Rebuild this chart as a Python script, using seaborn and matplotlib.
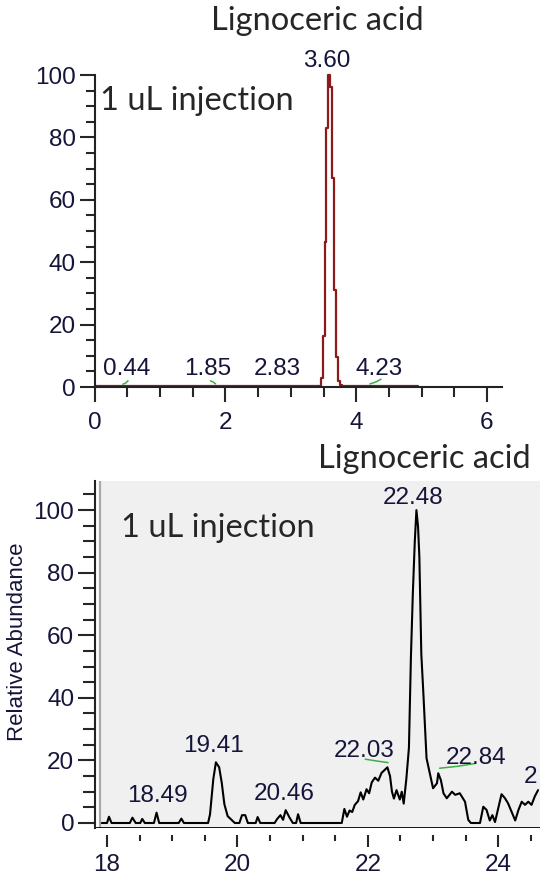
import numpy as np
import pandas as pd
import matplotlib
matplotlib.use('Agg')
import matplotlib.pyplot as plt
import seaborn as sns
from matplotlib.ticker import MultipleLocator
from matplotlib.patches import Rectangle

# top chromatogram (dark red trace)
top_time = [0.0, 0.44, 1.85, 2.83, 3.44, 3.47, 3.50, 3.53, 3.56, 3.59, 3.62,
            3.65, 3.68, 3.71, 3.74, 3.77, 3.80, 4.23, 4.94]
top_abund = [0.3, 0.3, 0.3, 0.3, 0.3, 3, 16.5, 46.5, 83, 100, 96,
             67, 31, 9.5, 2, 0.8, 0.4, 0.3, 0.3]
top_peak_labels = ['0.44', '1.85', '2.83', '3.60', '4.23']
top_label_x = [0.49, 1.73, 2.79, 3.55, 4.35]
top_label_y = [3.7, 3.7, 3.7, 102.7, 3.7]
# small green baseline marks under the minor peaks
top_marks = [([0.43, 0.47, 0.51], [0.9, 1.2, 2.0]),
             ([1.77, 1.81, 1.85], [2.0, 1.6, 1.0]),
             ([4.21, 4.30, 4.38], [1.0, 1.6, 2.5])]

# bottom chromatogram (black trace)
bot_time = [17.92, 18.00, 18.03, 18.07, 18.35, 18.39, 18.44, 18.51, 18.54, 18.58,
            18.72, 18.76, 18.80, 19.10, 19.14, 19.18, 19.55, 19.58, 19.63, 19.67,
            19.72, 19.76, 19.80, 19.85, 19.91, 19.96, 20.03, 20.07, 20.12, 20.16,
            20.28, 20.31, 20.35, 20.57, 20.61, 20.66, 20.70, 20.74, 20.80, 20.85,
            20.90, 20.93, 20.97, 21.60, 21.64, 21.68, 21.72, 21.76, 21.80, 21.85,
            21.89, 21.93, 21.98, 22.02, 22.06, 22.11, 22.16, 22.21, 22.26, 22.30,
            22.34, 22.37, 22.40, 22.44, 22.49, 22.52, 22.55, 22.59, 22.63, 22.66,
            22.69, 22.72, 22.745, 22.77, 22.79, 22.82, 22.85, 22.90, 22.95, 23.00,
            23.06, 23.08, 23.12, 23.16, 23.21, 23.29, 23.34, 23.41, 23.49, 23.54,
            23.58, 23.72, 23.77, 23.82, 23.87, 23.91, 23.95, 24.05, 24.10, 24.15,
            24.26, 24.31, 24.36, 24.41, 24.46, 24.51, 24.56, 24.61]
bot_abund = [0, 0, 2, 0, 0, 1.7, 0, 0, 1.3, 0,
             0, 3.3, 0, 0, 1.4, 0, 0, 2.8, 14, 19.4,
             17.8, 12.8, 6, 2.2, 1, 0, 0, 2.5, 2.5, 0,
             0, 1.9, 0, 0, 1.3, 2.5, 1.0, 4.1, 1.7, 0,
             0, 2.8, 0, 0, 4.5, 2.0, 4.0, 3.5, 5.8, 7.0,
             9.8, 7.5, 10.8, 9.5, 13.0, 14.5, 13.5, 16.0, 17.0, 17.8,
             15.0, 10.0, 7.8, 10.5, 7.5, 10.0, 6.2, 14.0, 24, 52.6,
             73.4, 90, 100, 94.7, 85, 54, 42, 20.7, 15.9, 11.1,
             12.7, 15.9, 13.7, 9.5, 7.9, 10, 9, 9.5, 6.8, 1.0,
             0, 0, 5.2, 4.2, 0.8, 2.5, 0.3, 9.2, 8.0, 6.3,
             0.8, 4.2, 6.8, 5.8, 6.8, 5.8, 8.5, 10.5]
bot_peak_labels = ['18.49', '19.41', '20.46', '22.03', '22.48', '22.84']
bot_label_x = [18.77, 19.64, 20.72, 21.94, 22.69, 23.66]
bot_label_y = [6.7, 22.8, 7.2, 21.1, 102.0, 18.9]
bot_marks = [([21.96, 22.14, 22.31], [20.4, 19.8, 19.3]),
             ([23.10, 23.37, 23.64], [17.5, 18.1, 19.0])]
cut_label = '2'   # peak label cut off by the right edge in the source

title_text = 'Lignoceric acid'
inj_text = '1 uL injection'
ylabel_text = 'Relative Abundance'

sns.set_style('white')
plt.rcParams['font.family'] = ['Liberation Sans', 'DejaVu Sans']
label_color = '#15153a'
tick_fs = 17.5
big_fs = 23.5

fig = plt.figure(figsize=(5.49, 8.89), dpi=100)
W, H = 549, 889

def px_axes(left, top, right, bottom):
    return fig.add_axes([left / W, 1 - bottom / H, (right - left) / W, (bottom - top) / H])

# ---------------- top panel ----------------
ax1 = px_axes(94.7, 75, 502, 387)
df_top = pd.DataFrame({'time': top_time, 'abund': top_abund})
sns.lineplot(data=df_top, x='time', y='abund', ax=ax1, color='#8b1a1a', lw=1.6,
             estimator=None, sort=False, drawstyle='steps-mid', clip_on=False)
for xs, ys in top_marks:
    ax1.plot(xs, ys, color='#3cb043', lw=1.1, clip_on=False)
for lab, lx, ly in zip(top_peak_labels, top_label_x, top_label_y):
    ax1.text(lx, ly, lab, ha='center', va='baseline', fontsize=tick_fs, color=label_color)
ax1.set_xlim(0, 6.23)
ax1.set_ylim(0, 100)
ax1.xaxis.set_major_locator(MultipleLocator(2))
ax1.xaxis.set_minor_locator(MultipleLocator(0.5))
ax1.yaxis.set_major_locator(MultipleLocator(20))
ax1.yaxis.set_minor_locator(MultipleLocator(5))
ax1.tick_params(axis='x', which='major', direction='out', length=11, width=1.5, pad=7,
                labelsize=tick_fs, labelcolor=label_color, bottom=True)
ax1.tick_params(axis='x', which='minor', direction='out', length=7.5, width=1.5, bottom=True)
ax1.tick_params(axis='y', which='major', direction='out', length=10.5, width=1.5, pad=3,
                labelsize=tick_fs, labelcolor=label_color, left=True)
ax1.tick_params(axis='y', which='minor', direction='out', length=6.3, width=1.5, left=True)
for s in ['top', 'right']:
    ax1.spines[s].set_visible(False)
for s in ['left', 'bottom']:
    ax1.spines[s].set_color('#222222')
    ax1.spines[s].set_linewidth(1.5)
ax1.set_xlabel('')
ax1.set_ylabel('')
ax1.set_facecolor('white')

# ---------------- bottom panel ----------------
ax2 = px_axes(95, 481, 540, 828)
ax2.set_facecolor('#f0f0f0')
ax2.add_patch(Rectangle((0, 0), 0.011, 1, transform=ax2.transAxes, color='white', zorder=0.5))
ax2.plot([0.011, 0.011], [0, 1], transform=ax2.transAxes, color='#a8a8a8', lw=1.6, zorder=0.6)
df_bot = pd.DataFrame({'time': bot_time, 'abund': bot_abund})
sns.lineplot(data=df_bot, x='time', y='abund', ax=ax2, color='black', lw=1.5,
             estimator=None, sort=False)
for xs, ys in bot_marks:
    ax2.plot(xs, ys, color='#3cb043', lw=1.1)
for lab, lx, ly in zip(bot_peak_labels, bot_label_x, bot_label_y):
    ax2.text(lx, ly, lab, ha='center', va='baseline', fontsize=tick_fs, color=label_color)
ax2.text(24.385, 12.8, cut_label, ha='left', va='baseline', fontsize=tick_fs,
         color=label_color, clip_on=True)
ax2.set_xlim(17.816, 24.64)
ax2.set_ylim(-1.6, 109.3)
ax2.axhline(ax2.get_ylim()[0], color='black', lw=2)
ax2.xaxis.set_major_locator(MultipleLocator(2))
ax2.xaxis.set_minor_locator(MultipleLocator(0.5))
ax2.yaxis.set_minor_locator(MultipleLocator(5))
ax2.set_yticks(np.arange(0, 101, 20))
ax2.tick_params(axis='x', which='major', direction='out', length=8.5, width=1.5, pad=5,
                labelsize=tick_fs, labelcolor=label_color, bottom=True)
ax2.tick_params(axis='x', which='minor', direction='out', length=4, width=1.5, bottom=True)
ax2.tick_params(axis='y', which='major', direction='out', length=12, width=1.5, pad=3,
                labelsize=tick_fs, labelcolor=label_color, left=True)
ax2.tick_params(axis='y', which='minor', direction='out', length=8.4, width=1.5, left=True)
ax2.spines['bottom'].set_position(('outward', 5))
ax2.spines['bottom'].set_visible(False)
for s in ['top', 'right']:
    ax2.spines[s].set_visible(False)
ax2.spines['left'].set_color('#222222')
ax2.spines['left'].set_linewidth(1.5)
ax2.set_xlabel('')
ax2.set_ylabel('')

# texts
fig.text(211 / W, 1 - 30 / H, title_text, family='Lato', fontsize=big_fs, ha='left', va='baseline')
fig.text(318 / W, 1 - 468 / H, title_text, family='Lato', fontsize=big_fs, ha='left', va='baseline')
fig.text(100 / W, 1 - 110.5 / H, inj_text, family='Lato', fontsize=big_fs, ha='left', va='baseline')
fig.text(121 / W, 1 - 537 / H, inj_text, family='Lato', fontsize=big_fs, ha='left', va='baseline')
fig.text(18 / W, 1 - 642 / H, ylabel_text, rotation=90, ha='center', va='center',
         fontsize=16, color=label_color)

fig.savefig('out.png', dpi=100)
